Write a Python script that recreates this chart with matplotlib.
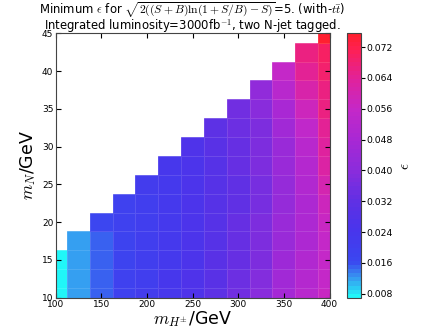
import numpy as np
import matplotlib
matplotlib.use("Agg")
import matplotlib.pyplot as plt
from matplotlib.colors import LinearSegmentedColormap, Normalize

# Grid (cell centres)
m_H = [100, 125, 150, 175, 200, 225, 250, 275, 300, 325, 350, 375, 400]
m_N = [10, 12.5, 15, 17.5, 20, 22.5, 25, 27.5, 30, 32.5, 35, 37.5, 40, 42.5, 45]

# Minimum epsilon per m_H column, listed from m_N = 10 upwards
eps_100 = [0.0069, 0.0069, 0.0069]
eps_125 = [0.0120, 0.0120, 0.0119, 0.0120]
eps_150 = [0.0152, 0.0151, 0.0150, 0.0153, 0.0170]
eps_175 = [0.0190, 0.0188, 0.0186, 0.0186, 0.0188, 0.0195]
eps_200 = [0.0210, 0.0208, 0.0205, 0.0205, 0.0206, 0.0208, 0.0215]
eps_225 = [0.0235, 0.0232, 0.0228, 0.0226, 0.0226, 0.0228, 0.0230, 0.0238]
eps_250 = [0.0270, 0.0265, 0.0260, 0.0258, 0.0256, 0.0256, 0.0258, 0.0262, 0.0270]
eps_275 = [0.0310, 0.0300, 0.0295, 0.0290, 0.0288, 0.0288, 0.0290, 0.0292, 0.0298, 0.0310]
eps_300 = [0.0350, 0.0340, 0.0335, 0.0330, 0.0328, 0.0326, 0.0326, 0.0328, 0.0330, 0.0338, 0.0350]
eps_325 = [0.0400, 0.0390, 0.0380, 0.0375, 0.0370, 0.0368, 0.0368, 0.0370, 0.0375, 0.0380, 0.0400, 0.0420]
eps_350 = [0.0470, 0.0460, 0.0450, 0.0440, 0.0435, 0.0430, 0.0430, 0.0435, 0.0440, 0.0460, 0.0480, 0.0520, 0.0560]
eps_375 = [0.0520, 0.0510, 0.0500, 0.0490, 0.0490, 0.0490, 0.0500, 0.0510, 0.0530, 0.0550, 0.0580, 0.0610, 0.0640, 0.0670]
eps_400 = [0.0570, 0.0560, 0.0560, 0.0560, 0.0570, 0.0580, 0.0600, 0.0620, 0.0635, 0.0645, 0.0660, 0.0670, 0.0690, 0.0700, 0.0756]

columns = [eps_100, eps_125, eps_150, eps_175, eps_200, eps_225, eps_250,
           eps_275, eps_300, eps_325, eps_350, eps_375, eps_400]

cbar_ticks = [0.008, 0.016, 0.024, 0.032, 0.040, 0.048, 0.056, 0.064, 0.072]

title_1 = "Minimum $\\epsilon$ for $\\sqrt{2((S+B)\\ln(1+S/B)-S)}$=5. (with-$t\\bar{t}$)"
title_2 = "Integrated luminosity=3000fb$^{-1}$, two N-jet tagged."

Z = np.full((len(m_N), len(m_H)), np.nan)
for j, col in enumerate(columns):
    Z[:len(col), j] = col
Z = np.ma.masked_invalid(Z)

cmap = LinearSegmentedColormap.from_list("eps", [
    (0.00, "#20f6f8"),
    (0.045, "#30b8f2"),
    (0.075, "#3890f0"),
    (0.13, "#3a48f0"),
    (0.25, "#4835ec"),
    (0.365, "#6030e4"),
    (0.48, "#8a2cdc"),
    (0.60, "#a828d4"),
    (0.715, "#c428c8"),
    (0.83, "#e0229c"),
    (0.95, "#ff2050"),
    (1.00, "#ff2030"),
], N=64)
norm = Normalize(vmin=0.0069, vmax=0.0756)

plt.rcParams.update({
    "font.family": "DejaVu Sans",
    "mathtext.fontset": "cm",
    "xtick.direction": "in", "ytick.direction": "in",
    "xtick.top": True, "ytick.right": True,
    "xtick.labelsize": 6.5, "ytick.labelsize": 6.5,
})

W, H = 443, 332
fig = plt.figure(figsize=(W / 100, H / 100), dpi=100)
ax = fig.add_axes([55.5/W, 1 - 297.5/H, (329.5 - 55.5)/W, (297.5 - 33.3)/H])
cax = fig.add_axes([347/W, 1 - 298/H, 14/W, (298 - 33.3)/H])

mesh = ax.pcolormesh(m_H, m_N, Z, cmap=cmap, norm=norm, shading="nearest",
                     edgecolors=(1, 1, 1, 0.12), linewidth=0.5)
ax.set_xlim(100, 400)
ax.set_ylim(10, 45)
ax.set_xticks([100, 150, 200, 250, 300, 350, 400])
ax.set_yticks([10, 15, 20, 25, 30, 35, 40, 45])
ax.tick_params(pad=1.5, length=3.5)
for s in ax.spines.values():
    s.set_color("#444444")

ax.set_xlabel(r"$m_{H^{\pm}}$/GeV", fontsize=12.5, labelpad=0)
ax.set_ylabel(r"$m_N$/GeV", fontsize=12.5, labelpad=3)

fig.text(192/W, 1 - 13.5/H, title_1, fontsize=8.4, ha="center", va="baseline")
fig.text(192/W, 1 - 29.5/H, title_2, fontsize=8.4, ha="center", va="baseline")

cb = fig.colorbar(mesh, cax=cax, ticks=cbar_ticks)
cb.ax.tick_params(direction="out", length=3, labelsize=6.7, right=True, left=False, pad=1)
cb.set_ticklabels(["%.3f" % t for t in cbar_ticks])
cb.outline.set_edgecolor("#444444")
cb.set_label(r"$\epsilon$", fontsize=11, labelpad=3)

fig.savefig("out.png", dpi=100)
